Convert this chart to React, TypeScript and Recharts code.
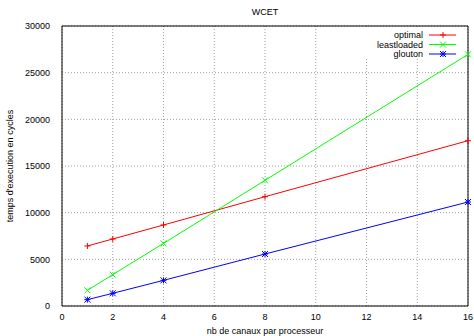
import { CartesianGrid, Label, Line, LineChart, ReferenceArea, XAxis, YAxis } from 'recharts';

const canaux = [1, 2, 4, 8, 16];
const optimal = [6430, 7180, 8680, 11710, 17710];
const leastloaded = [1680, 3360, 6710, 13460, 26960];
const glouton = [680, 1360, 2750, 5570, 11140];
const xTicks = [0, 2, 4, 6, 8, 10, 12, 14, 16];
const yTicks = [0, 5000, 10000, 15000, 20000, 25000, 30000];

const chartData = canaux.map((c, i) => ({
  canaux: c,
  optimal: optimal[i],
  leastloaded: leastloaded[i],
  glouton: glouton[i],
}));

const FONT = '"Liberation Sans", Arial, sans-serif';
const S = 3;

interface DotProps {
  cx?: number;
  cy?: number;
}

const PlusDot = (color: string) => ({ cx, cy }: DotProps) => {
  if (cx == null || cy == null) return null;
  return (
    <g stroke={color} strokeWidth={1}>
      <line x1={cx - S} y1={cy} x2={cx + S} y2={cy} />
      <line x1={cx} y1={cy - S} x2={cx} y2={cy + S} />
    </g>
  );
};

const CrossDot = (color: string) => ({ cx, cy }: DotProps) => {
  if (cx == null || cy == null) return null;
  return (
    <g stroke={color} strokeWidth={1}>
      <line x1={cx - S} y1={cy - S} x2={cx + S} y2={cy + S} />
      <line x1={cx - S} y1={cy + S} x2={cx + S} y2={cy - S} />
    </g>
  );
};

const StarDot = (color: string) => ({ cx, cy }: DotProps) => {
  if (cx == null || cy == null) return null;
  return (
    <g stroke={color} strokeWidth={1}>
      <line x1={cx - S} y1={cy} x2={cx + S} y2={cy} />
      <line x1={cx} y1={cy - S} x2={cx} y2={cy + S} />
      <line x1={cx - S} y1={cy - S} x2={cx + S} y2={cy + S} />
      <line x1={cx - S} y1={cy + S} x2={cx + S} y2={cy - S} />
    </g>
  );
};

const legendItems = [
  { name: 'optimal', color: '#ff0000', Dot: PlusDot('#ff0000') },
  { name: 'leastloaded', color: '#00ff00', Dot: CrossDot('#00ff00') },
  { name: 'glouton', color: '#0000ff', Dot: StarDot('#0000ff') },
];

export default function App() {
  return (
    <div style={{ position: 'absolute', left: 0, top: 0, width: 474, height: 336, background: '#fff' }}>
      <LineChart width={474} height={336} data={chartData} margin={{ top: 26, right: 6, bottom: 0, left: 0 }}>
        <text x={265} y={15} textAnchor="middle" fontSize={9} fontFamily={FONT} fill="#000">
          WCET
        </text>
        <CartesianGrid stroke="#a0a0a0" strokeDasharray="1 2" horizontalValues={yTicks} verticalValues={xTicks} />
        <XAxis
          dataKey="canaux"
          type="number"
          domain={[0, 16]}
          ticks={xTicks}
          height={30}
          tickLine={false}
          axisLine={false}
          tickMargin={2}
          tick={{ fontSize: 9, fontFamily: FONT, fill: '#000' }}
        >
          <Label value="nb de canaux par processeur" position="insideBottom" offset={2} fontSize={9} fontFamily={FONT} fill="#000" />
        </XAxis>
        <YAxis
          type="number"
          domain={[0, 30000]}
          ticks={yTicks}
          width={62}
          tickLine={false}
          axisLine={false}
          tickMargin={6}
          tick={{ fontSize: 9, fontFamily: FONT, fill: '#000' }}
        >
          <Label
            value="temps d'execution en cycles"
            angle={-90}
            position="insideLeft"
            offset={10}
            style={{ textAnchor: 'middle' }}
            fontSize={9}
            fontFamily={FONT}
            fill="#000"
          />
        </YAxis>
        <ReferenceArea x1={0} x2={16} y1={0} y2={30000} fill="none" stroke="#000" strokeWidth={1} />
        {legendItems.map((item) => (
          <Line
            key={item.name}
            type="linear"
            dataKey={item.name}
            stroke={item.color}
            strokeWidth={1}
            dot={<item.Dot />}
            activeDot={false}
            isAnimationActive={false}
          />
        ))}
      </LineChart>
      <svg width={474} height={336} style={{ position: 'absolute', left: 0, top: 0, pointerEvents: 'none' }}>
        <rect x={364} y={27} width={94} height={31} fill="#fff" />
        {legendItems.map((item, i) => {
          const y = 35 + i * 9.5;
          const Dot = item.Dot;
          return (
            <g key={item.name}>
              <text x={423} y={y + 3} textAnchor="end" fontSize={9} fontFamily={FONT} fill="#000">
                {item.name}
              </text>
              <line x1={429} y1={y} x2={456} y2={y} stroke={item.color} strokeWidth={1} />
              <Dot cx={443} cy={y} />
            </g>
          );
        })}
      </svg>
    </div>
  );
}
